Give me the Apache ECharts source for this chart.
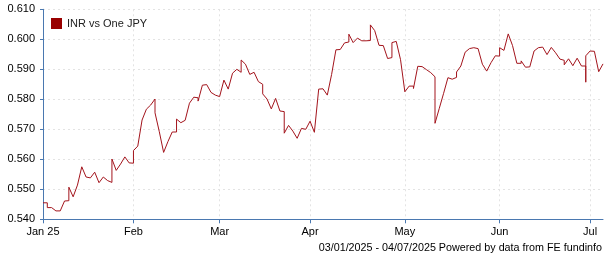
<!DOCTYPE html>
<html>
<head>
<meta charset="utf-8">
<script src="https://cdn.jsdelivr.net/npm/echarts@6/dist/echarts.min.js"></script>
<style>html,body{margin:0;padding:0;background:#fff;}#c{width:605px;height:260px;}</style>
</head>
<body>
<div id="c"></div>
<script>
// Trading-day series (weekdays 03/01/2025 - 04/07/2025); nested arrays = intraday jumps at same x
const seriesName = 'INR vs One JPY';
const values = [
  0.5455, [0.5455, 0.5439], 0.5439, 0.5428, 0.5428, 0.5461, [0.5462, 0.5507], 0.5475, 0.5514, 0.5575,
  0.5541, 0.5538, 0.5557, 0.5522, 0.5541, 0.5529, [0.5523, 0.5601], 0.5563, 0.5584, 0.5608,
  0.5588, [0.5587, 0.5629], 0.5644, 0.5731, 0.5767, 0.5781, [0.5801, 0.5755], 0.5692, 0.5623, 0.5659,
  0.5691, [0.5691, 0.5734], 0.5722, 0.5730, 0.5787, 0.5807, [0.5805, 0.5794], 0.5847, 0.5849, 0.5823,
  0.5814, 0.5809, 0.5864, 0.5834, 0.5887, 0.5900, [0.5890, 0.5931], 0.5917, 0.5883, 0.5890,
  0.5859, [0.5850, 0.5818], 0.5801, 0.5768, 0.5803, 0.5761, [0.5759, 0.5687], 0.5713, 0.5694, 0.5670,
  0.5703, 0.5700, 0.5727, 0.5690, 0.5834, 0.5835, 0.5814, 0.5883, 0.5965, 0.5966,
  0.5988, [0.5991, 0.6017], 0.5989, 0.6004, 0.5995, 0.5995, [0.5996, 0.6048], 0.6029, 0.5980, 0.5979,
  0.5936, [0.5939, 0.5989], 0.5993, 0.5932, 0.5825, 0.5844, [0.5844, 0.5836], 0.5910, 0.5909, 0.5899,
  0.5889, [0.5875, 0.5720], 0.5770, 0.5820, 0.5872, 0.5867, [0.5873, 0.5891], 0.5911, 0.5957, 0.5969,
  0.5972, 0.5969, 0.5917, 0.5894, 0.5922, 0.5945, [0.5944, 0.5972], 0.5963, 0.6018, 0.5979,
  0.5920, [0.5920, 0.5928], 0.5907, 0.5908, 0.5961, 0.5972, 0.5974, 0.5949, 0.5973, 0.5955,
  0.5934, [0.5930, 0.5915], 0.5935, 0.5912, 0.5937, 0.5911, [0.5911, 0.5857, 0.5945], 0.5961, 0.5960, 0.5892,
  0.5918
];
const tickIndex = [0, 21, 41, 62, 84, 106, 127];
const tickLabels = ['Jan 25', 'Feb', 'Mar', 'Apr', 'May', 'Jun', 'Jul'];
const yTicks = [0.540, 0.550, 0.560, 0.570, 0.580, 0.590, 0.600, 0.610];
const footer = '03/01/2025 - 04/07/2025 Powered by data from FE fundinfo';

const data = [];
values.forEach((v, i) => {
  (Array.isArray(v) ? v : [v]).forEach(p => data.push([i, p]));
});

const font = '"Liberation Sans", Arial, sans-serif';
const axisBlue = '#4a78b0';
const chart = echarts.init(document.getElementById('c'), null, {renderer: 'canvas'});
chart.setOption({
  animation: false,
  backgroundColor: '#fff',
  grid: {left: 43, right: 2, top: 9.3, bottom: 40.7, outerBoundsMode: 'none'},
  legend: {
    left: 46, top: 13, itemWidth: 11, itemHeight: 11, itemGap: 5,
    icon: 'rect',
    textStyle: {fontFamily: font, fontSize: 11, color: '#222'},
    data: [seriesName]
  },
  xAxis: {
    type: 'value', min: 0, max: values.length - 1,
    axisLine: {show: true, lineStyle: {color: axisBlue, width: 1}},
    axisTick: {show: true, length: 4, lineStyle: {color: axisBlue}, customValues: tickIndex},
    axisLabel: {
      customValues: tickIndex, margin: 7,
      fontFamily: font, fontSize: 11, color: '#000',
      formatter: v => tickLabels[tickIndex.indexOf(Math.round(v))] || ''
    },
    splitLine: {show: true, customValues: tickIndex, lineStyle: {color: '#e3e3e3', type: [2, 3]}}
  },
  yAxis: {
    type: 'value', min: yTicks[0], max: yTicks[yTicks.length - 1], interval: 0.01,
    axisLine: {show: true, lineStyle: {color: axisBlue, width: 1}},
    axisTick: {show: true, length: 3, lineStyle: {color: axisBlue}},
    axisLabel: {
      margin: 8, fontFamily: font, fontSize: 11, color: '#000',
      formatter: v => v.toFixed(3)
    },
    splitLine: {show: true, lineStyle: {color: '#e3e3e3', type: [2, 3]}}
  },
  series: [{
    name: seriesName, type: 'line', data: data,
    showSymbol: false, symbol: 'none',
    itemStyle: {color: '#990000'},
    lineStyle: {color: '#a3141c', width: 1}
  }],
  graphic: [{
    type: 'text', right: 3, bottom: 6,
    style: {text: footer, fontFamily: font, fontSize: 10.75, fill: '#000'}
  }]
});
</script>
</body>
</html>
